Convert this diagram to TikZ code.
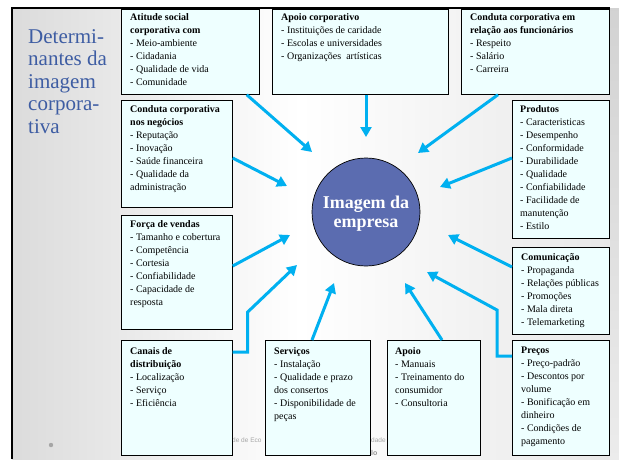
\documentclass[tikz,border=0pt]{standalone}
\usepackage{fontspec}
\setmainfont{Liberation Serif}
\newfontfamily\footfont{Liberation Sans}
\usetikzlibrary{arrows.meta,calc}
\definecolor{boxfill}{RGB}{238,255,255}
\definecolor{arrowc}{RGB}{0,176,240}
\definecolor{circfill}{RGB}{91,108,176}
\definecolor{titlec}{RGB}{62,93,163}
\begin{document}
\begin{tikzpicture}[x=1pt,y=-1pt,
  box/.style={draw=black,line width=0.7pt,fill=boxfill,rectangle,inner sep=0,anchor=north west},
  txt/.style={anchor=north west,inner sep=0,align=left,font=\fontsize{10}{13}\selectfont},
  arr/.style={draw=arrowc,line width=3pt,-{Triangle[length=10pt,width=11pt]}},
  foot/.style={inner sep=0,text=gray!70,font=\footfont\fontsize{6.5}{7}\selectfont}
]
\useasboundingbox (0,0) rectangle (619,459);
\fill[white] (0,0) rectangle (619,459);
% slide background
\shade[left color=gray!28, right color=white] (12,8) rectangle (300,459);
\shade[left color=white, right color=gray!18] (300,8) rectangle (610,459);
\shade[top color=gray!35, bottom color=gray!15] (610,8) rectangle (619,459);
\draw[black,line width=2.5pt] (12,459) -- (12,8) -- (610,8);
% title
\node[anchor=north west,inner sep=0,align=left,text=titlec,font=\fontsize{21}{22.5}\selectfont] (title) at (28,29)
  {Determi-\\nantes da\\imagem\\corpora-\\tiva};
% bullet
\fill[gray!70] (51,445) circle (2.2);
% footer fragments
\node[foot,anchor=base west] (f1) at (232,442) {de de Eco};
\node[foot,anchor=base west] (f2) at (371,442) {dade};
\node[foot,anchor=base west,text=gray!85,font=\footfont\bfseries\fontsize{7}{7}\selectfont] (f3) at (371,455) {lo};
% boxes
\node[box,minimum width=138pt,minimum height=85pt] (b1) at (121,9) {};
\node[box,minimum width=176pt,minimum height=85pt] (b2) at (272,9) {};
\node[box,minimum width=148pt,minimum height=85pt] (b3) at (461,9) {};
\node[box,minimum width=111pt,minimum height=107pt] (b4) at (121,100) {};
\node[box,minimum width=111pt,minimum height=114pt] (b5) at (121,215) {};
\node[box,minimum width=111pt,minimum height=115pt] (b6) at (121,340) {};
\node[box,minimum width=105pt,minimum height=115pt] (b7) at (265,340) {};
\node[box,minimum width=93pt,minimum height=115pt] (b8) at (387,340) {};
\node[box,minimum width=97pt,minimum height=115pt] (b9) at (512,340) {};
\node[box,minimum width=97pt,minimum height=87pt] (b10) at (512,247) {};
\node[box,minimum width=97pt,minimum height=138pt] (b11) at (512,100) {};
% texts
\node[txt] (x1) at ($(b1.north west)+(9,4)$) {\textbf{Atitude social}\\\textbf{corporativa com}\\- Meio-ambiente\\- Cidadania\\- Qualidade de vida\\- Comunidade};
\node[txt] (x2) at ($(b2.north west)+(9,4)$) {\textbf{Apoio corporativo}\\- Instituições de caridade\\- Escolas e universidades\\- Organizações\ \ artísticas};
\node[txt] (x3) at ($(b3.north west)+(9,4)$) {\textbf{Conduta corporativa em}\\\textbf{relação aos funcionários}\\- Respeito\\- Salário\\- Carreira};
\node[txt] (x4) at ($(b4.north west)+(9,5)$) {\textbf{Conduta corporativa}\\\textbf{nos negócios}\\- Reputação\\- Inovação\\- Saúde financeira\\- Qualidade da\\administração};
\node[txt] (x5) at ($(b5.north west)+(9,5)$) {\textbf{Força de vendas}\\- Tamanho e cobertura\\- Competência\\- Cortesia\\- Confiabilidade\\- Capacidade de\\resposta};
\node[txt] (x6) at ($(b6.north west)+(9,7)$) {\textbf{Canais de}\\\textbf{distribuição}\\- Localização\\- Serviço\\- Eficiência};
\node[txt] (x7) at ($(b7.north west)+(9,7)$) {\textbf{Serviços}\\- Instalação\\- Qualidade e prazo\\dos consertos\\- Disponibilidade de\\peças};
\node[txt] (x8) at ($(b8.north west)+(8,7)$) {\textbf{Apoio}\\- Manuais\\- Treinamento do\\consumidor\\- Consultoria};
\node[txt] (x9) at ($(b9.north west)+(9,7)$) {\textbf{Preços}\\- Preço-padrão\\- Descontos por\\volume\\- Bonificação em\\dinheiro\\- Condições de\\pagamento};
\node[txt] (x10) at ($(b10.north west)+(9,6)$) {\textbf{Comunicação}\\- Propaganda\\- Relações públicas\\- Promoções\\- Mala direta\\- Telemarketing};
\node[txt] (x11) at ($(b11.north west)+(8,5)$) {\textbf{Produtos}\\- Caracteristicas\\- Desempenho\\- Conformidade\\- Durabilidade\\- Qualidade\\- Confiabilidade\\- Facilidade de\\manutenção\\- Estilo};
% center circle
\node[circle,draw=black,line width=0.7pt,fill=circfill,minimum size=108pt,inner sep=0] (c) at (366,212) {};
\node[inner sep=0,text=white,align=center,font=\bfseries\fontsize{18}{19}\selectfont] (ct) at (366,214) {Imagem da\\empresa};
% arrow tips
\coordinate (t1) at (312,152);
\coordinate (t2) at (366,137);
\coordinate (t3) at (418,153);
\coordinate (t4) at (287,186);
\coordinate (t11) at (440,187);
\coordinate (t5) at (290,235);
\coordinate (t6) at (297,265);
\coordinate (t7) at (334,283);
\coordinate (t8) at (405,283);
\coordinate (t10) at (448,235);
\coordinate (t9) at (427,272);
% arrows
\draw[arr] ($(b1.south east)+(-13,0)$) -- (t1);
\draw[arr] (b2.south -| t2) -- (t2);
\draw[arr] ($(b3.south west)+(37,0)$) -- (t3);
\draw[arr] ($(b4.north east)+(0,58)$) -- (t4);
\draw[arr] ($(b11.north west)+(0,58)$) -- (t11);
\draw[arr] ($(b5.north east)+(0,51)$) -- (t5);
\draw[arr] ($(b6.north east)+(0,12)$) -- ++(15,0) -- ++(0,-40) -- (t6);
\draw[arr] ($(b7.north west)+(47,0)$) -- (t7);
\draw[arr] ($(b8.north west)+(55,0)$) -- (t8);
\draw[arr] ($(b10.north west)+(0,20)$) -- (t10);
\draw[arr] ($(b9.north west)+(0,16)$) -- ++(-15,0) -- ++(0,-46) -- (t9);
\end{tikzpicture}
\end{document}
